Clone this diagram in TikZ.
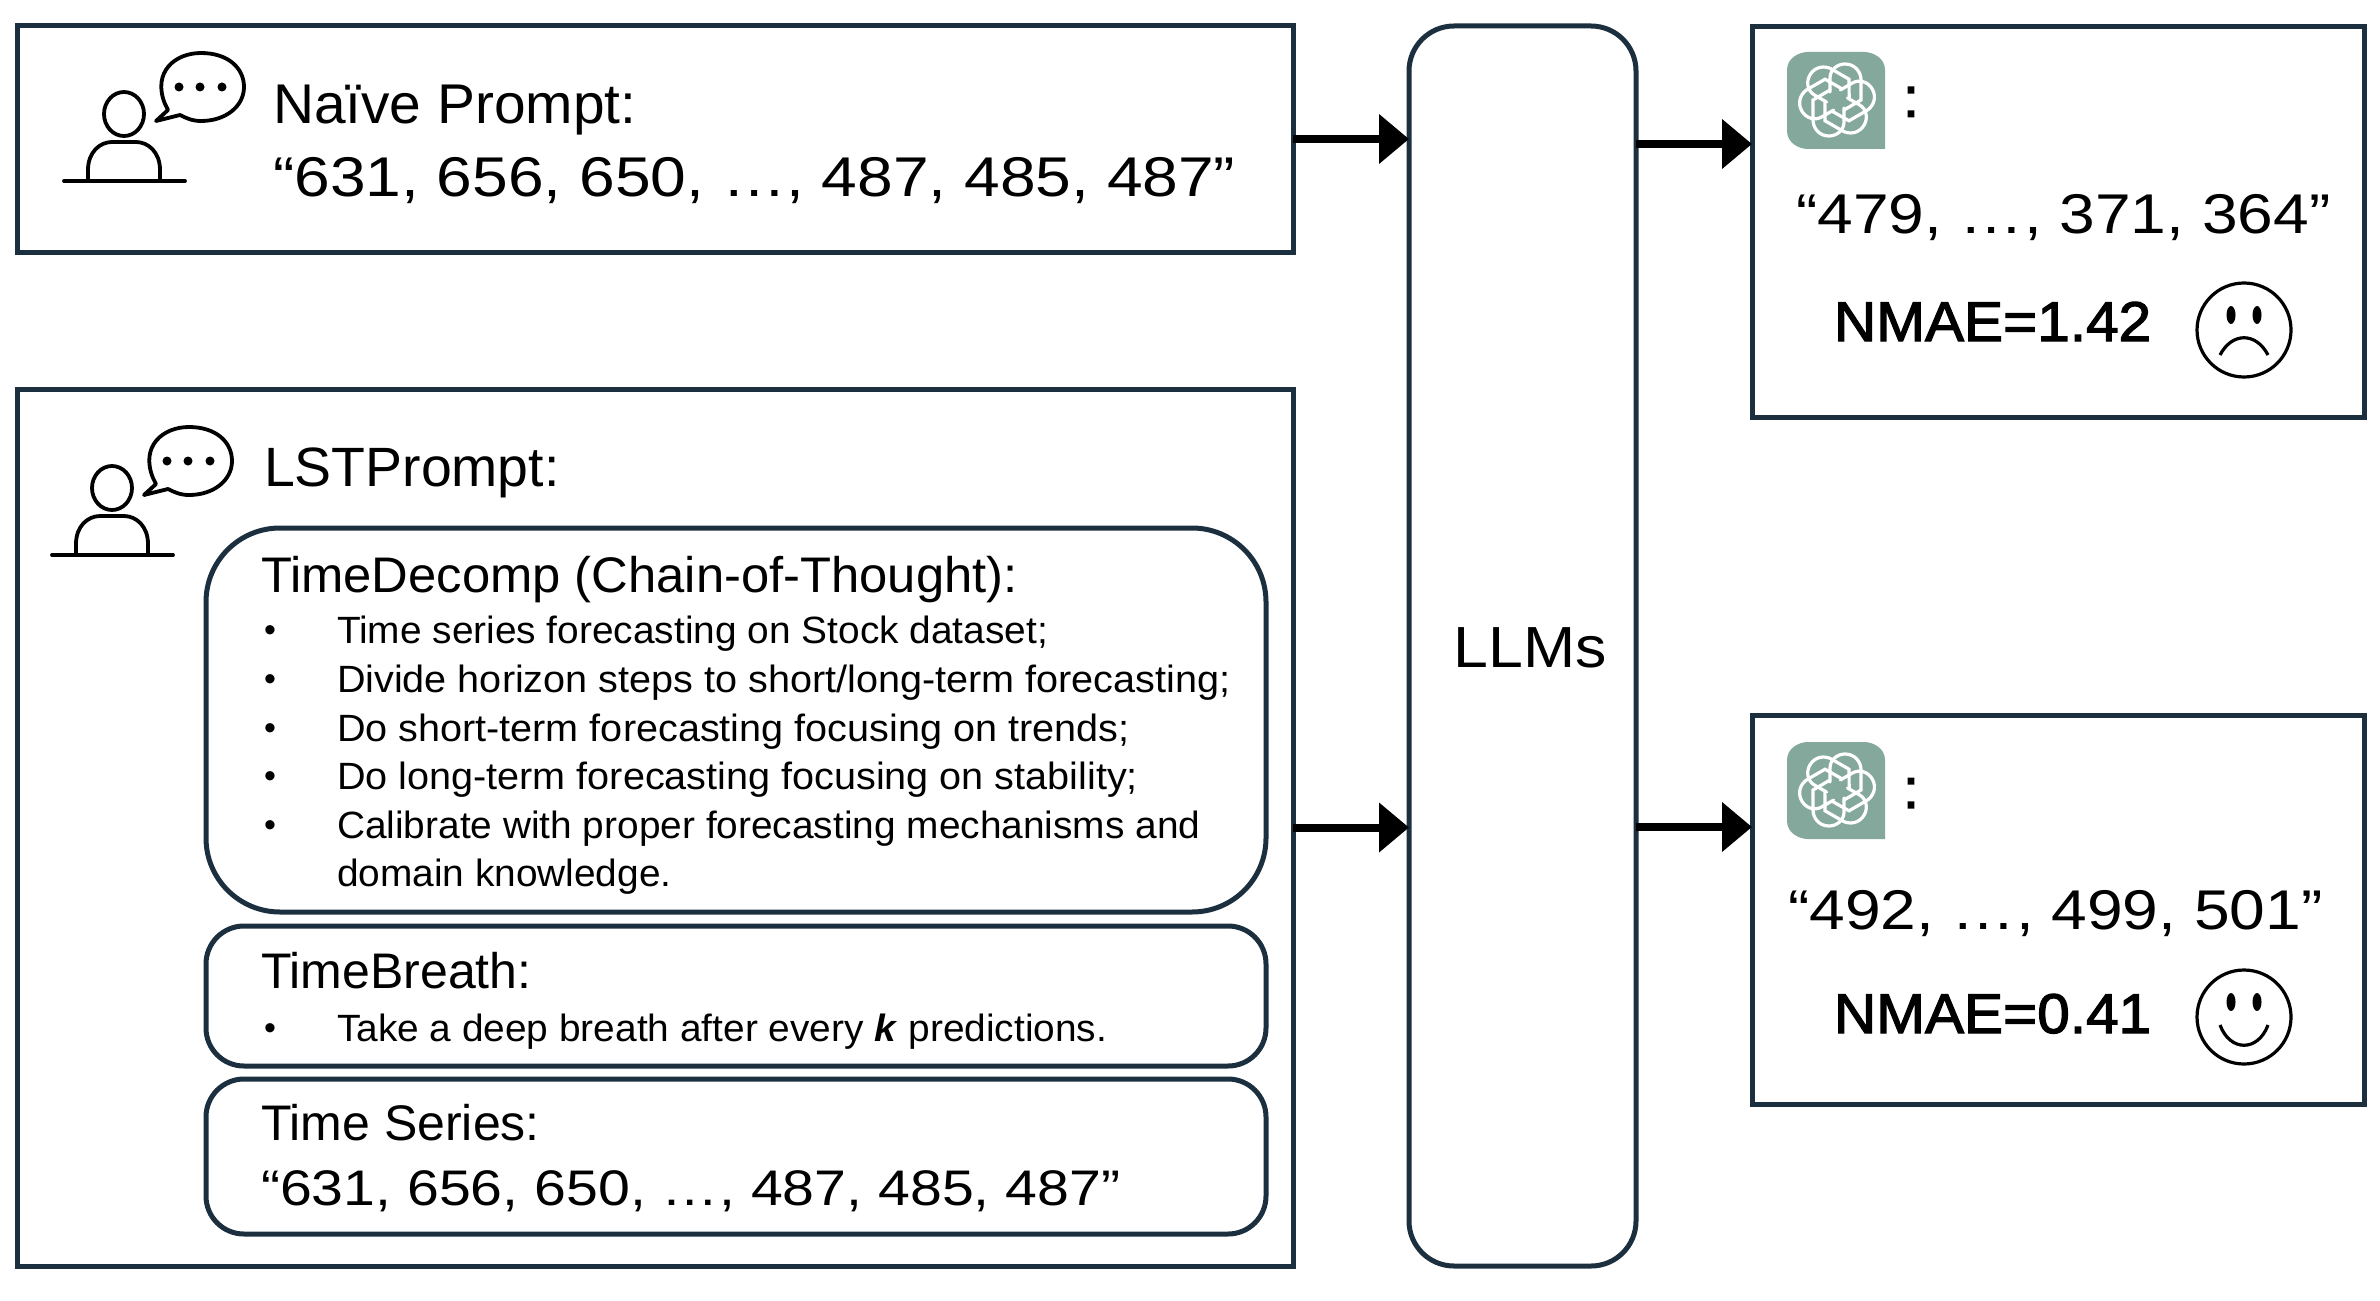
\documentclass[tikz,border=0pt]{standalone}
\usepackage{fontspec}
\setmainfont{Liberation Sans}
\newfontfamily\numf[FakeStretch=1.145]{Liberation Sans}
\newfontfamily\headf[FakeStretch=1.015]{Liberation Sans}
\newfontfamily\boldf[FakeStretch=1.045,FakeBold=2.2]{Liberation Sans}
\newfontfamily\colonf[FakeBold=2.5]{Liberation Sans}
\newfontfamily\bodyf[FakeStretch=1.022]{Liberation Sans}
\newfontfamily\bodyw[FakeStretch=1.042]{Liberation Sans}
\usetikzlibrary{arrows.meta}
\definecolor{navy}{HTML}{1C2F3F}
\definecolor{gptgreen}{HTML}{84A99C}
\tikzset{
  outer/.style={draw=navy,line width=2.5pt,inner sep=0,outer sep=0,fill=none},
  lab/.style={anchor=base west,inner sep=0,outer sep=0},
  headtxt/.style={lab,font=\headf\fontsize{28}{30}\selectfont},
  headplain/.style={lab,font=\fontsize{27.7}{30}\selectfont},
  midtxt/.style={lab,font=\headf\fontsize{25}{28}\selectfont},
  midplain/.style={lab,font=\fontsize{25}{28}\selectfont},
  bodytxt/.style={lab,font=\bodyf\fontsize{19}{22}\selectfont},
  bodywide/.style={lab,font=\bodyw\fontsize{19}{22}\selectfont},
  numtxt/.style={lab,font=\numf\fontsize{28}{30}\selectfont},
  smalln/.style={lab,font=\numf\fontsize{25}{28}\selectfont},
  nmae/.style={lab,font=\boldf\fontsize{28}{30}\selectfont},
  dot/.style={anchor=center,inner sep=0,outer sep=0,font=\fontsize{17}{20}\selectfont},
  colonmark/.style={anchor=center,inner sep=0,font=\colonf\fontsize{28}{30}\selectfont},
  iconline/.style={draw=black,line width=1.9pt,line cap=round,line join=round},
  flow/.style={line width=4pt,-{Triangle[length=15pt,width=24pt]}},
}
\newcommand{\personicon}[2]{%
  \begin{scope}[shift={(#1,#2)}]
    \draw[iconline] (124,114) ellipse [x radius=20,y radius=22];
    \draw[iconline] (88,181) -- (88,170) .. controls (88,152) and (100,142) .. (112,142) -- (136,142) .. controls (148,142) and (160,152) .. (160,170) -- (160,181);
    \draw[iconline] (64,181) -- (185,181);
    \draw[iconline] (165,104) .. controls (152,72) and (175,53) .. (201,53) .. controls (228,53) and (244,68) .. (244,87) .. controls (244,106) and (226,121) .. (201,121) .. controls (192,121) and (186,118) .. (180,115) -- (156,121) -- (168,110) .. controls (167,108) and (166,106) .. (165,104) -- cycle;
    \fill (179,87) ellipse [x radius=4.5,y radius=4.5];
    \fill (200,87) ellipse [x radius=4.5,y radius=4.5];
    \fill (222,87) ellipse [x radius=4.5,y radius=4.5];
  \end{scope}}
\newcommand{\gptlogo}[2]{%
  \begin{scope}[shift={(#1,#2)}]
    \fill[gptgreen] (-49,18) .. controls (-49,6) and (-37,0) .. (-28,0) -- (28,0) .. controls (37,0) and (49,6) .. (49,18) -- (49,97) -- (-28,97) .. controls (-37,97) and (-49,91) .. (-49,79) -- cycle;
    \begin{scope}[shift={(1,48)}]
      \foreach \a in {0,60,...,300}
        \draw[white,line width=1.6pt,rotate=\a,line cap=round] (-7,-8) -- (-7,-22) .. controls (-7,-30) and (0,-36) .. (8,-36) .. controls (18,-36) and (24,-28) .. (24,-20) -- (24,0) -- (7,10);
    \end{scope}
  \end{scope}}
\begin{document}
\begin{tikzpicture}[x=0.5pt,y=-0.5pt]
\useasboundingbox (0,0) rectangle (2380,1300);
\fill[white] (0,0) rectangle (2380,1300);
% boxes
\node[outer,minimum width=638pt,minimum height=113pt] (naive) at (655,139) {};
\node[outer,minimum width=638pt,minimum height=438.5pt] (lst) at (655,827.5) {};
\node[outer,rounded corners=22.5pt,minimum width=113.5pt,minimum height=620pt] (llm) at (1522.5,646) {};
\node[anchor=center,inner sep=0,font=\fontsize{29}{31}\selectfont] (llmtext) at (1530,648) {\addfontfeature{FakeStretch=1.08}LLMs};
\node[outer,minimum width=306pt,minimum height=195pt] (r1) at (2058,222) {};
\node[outer,minimum width=306pt,minimum height=194.5pt] (r2) at (2058,909.5) {};
\node[outer,rounded corners=37pt,minimum width=530pt,minimum height=192pt] (decomp) at (736,720) {};
\node[outer,rounded corners=19pt,minimum width=530pt,minimum height=70pt] (breath) at (736,996) {};
\node[outer,rounded corners=19pt,minimum width=530pt,minimum height=77.5pt] (series) at (736,1156.5) {};
% arrows
\coordinate (o1) at (1636,144);
\coordinate (o2) at (1636,827);
\draw[flow] (naive.east) -- (naive.east -| llm.west);
\draw[flow] (lst.east) -- (lst.east -| llm.west);
\draw[flow] (o1) -- (o1 -| r1.west);
\draw[flow] (o2) -- (o2 -| r2.west);
% people
\personicon{0}{0}
\personicon{-12}{374}
% texts
\node[headtxt] (t1) at (273,124) {Naïve Prompt:};
\node[numtxt] (t2) at (273,197) {“631, 656, 650, …, 487, 485, 487”};
\node[headplain] (t3) at (264,486) {LSTPrompt:};
\node[midtxt] (t4) at (261,592) {TimeDecomp (Chain-of-Thought):};
\node[dot] (d1) at (270,634) {•};
\node[bodytxt] (l1) at (337,643) {Time series forecasting on Stock dataset;};
\node[dot] (d2) at (270,683) {•};
\node[bodywide] (l2) at (337,692) {Divide horizon steps to short/long-term forecasting;};
\node[dot] (d3) at (270,732) {•};
\node[bodywide] (l3) at (337,741) {Do short-term forecasting focusing on trends;};
\node[dot] (d4) at (270,780) {•};
\node[bodywide] (l4) at (337,789) {Do long-term forecasting focusing on stability;};
\node[dot] (d5) at (270,829) {•};
\node[bodytxt] (l5) at (337,838) {Calibrate with proper forecasting mechanisms and};
\node[bodytxt] (l6) at (337,886) {domain knowledge.};
\node[midplain] (t5) at (261,988) {TimeBreath:};
\node[dot] (d6) at (270,1032) {•};
\node[bodytxt] (l7) at (337,1041) {Take a deep breath after every \textbf{\textit{k}} predictions.};
\node[midplain] (t6) at (261,1140) {Time Series:};
\node[smalln] (t7) at (261,1205) {“631, 656, 650, …, 487, 485, 487”};
% right boxes
\gptlogo{1836}{52}
\gptlogo{1836}{742}
\node[colonmark] (c1) at (1911,102) {:};
\node[colonmark] (c2) at (1911,793) {:};
\node[numtxt] (a1) at (1796,234) {“479, …, 371, 364”};
\node[numtxt] (a2) at (1788,929) {“492, …, 499, 501”};
\node[nmae] (n1) at (1834,341) {NMAE=1.42};
\node[nmae] (n2) at (1834,1033) {NMAE=0.41};
% faces
\draw[line width=1.6pt] (2244,330) ellipse [x radius=47,y radius=47];
\fill (2231,315) ellipse [x radius=4.5,y radius=9];
\fill (2257,315) ellipse [x radius=4.5,y radius=9];
\draw[line width=1.6pt] (2220,355) .. controls (2232,332) and (2256,332) .. (2268,355);
\draw[line width=1.6pt] (2244,1017) ellipse [x radius=47,y radius=47];
\fill (2231,1002) ellipse [x radius=4.5,y radius=9];
\fill (2257,1002) ellipse [x radius=4.5,y radius=9];
\draw[line width=1.6pt] (2220,1025) .. controls (2230,1052) and (2258,1052) .. (2268,1025);
\end{tikzpicture}
\end{document}
